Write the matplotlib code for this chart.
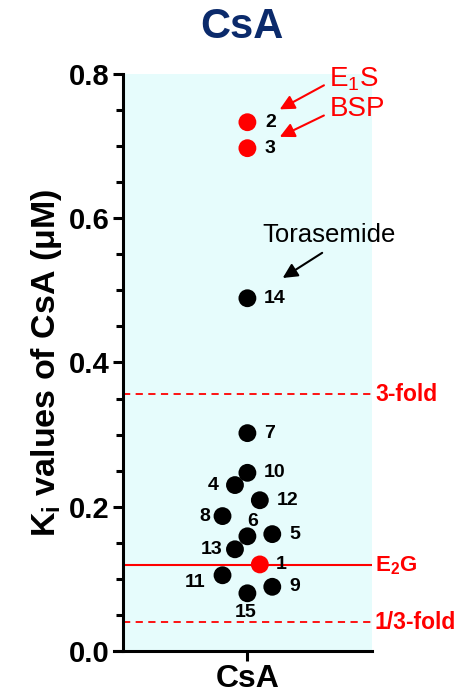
import numpy as np
import matplotlib.pyplot as plt
from matplotlib.ticker import MultipleLocator

plt.rcParams['font.family'] = ['Liberation Sans', 'DejaVu Sans']
plt.rcParams['mathtext.fontset'] = 'custom'
plt.rcParams['mathtext.rm'] = 'Liberation Sans'
plt.rcParams['mathtext.bf'] = 'Liberation Sans:bold'

# Ki values (uM) of CsA for each substrate, numbered 1-15
ids = [1, 2, 3, 4, 5, 6, 7, 8, 9, 10, 11, 12, 13, 14, 15]
ki = [0.120, 0.733, 0.697, 0.230, 0.162, 0.159, 0.302, 0.187, 0.089,
      0.247, 0.105, 0.209, 0.141, 0.489, 0.080]
jitter = [0.1, 0, 0, -0.1, 0.2, 0, 0, -0.2, 0.2, 0, -0.2, 0.1, -0.1, 0, 0]
red_ids = [1, 2, 3]

ref = 0.1187          # E2G reference
fold_hi = ref * 3
fold_lo = ref / 3

label_offsets = {1: (15.5, 0), 2: (16.5, 0), 3: (16.5, 0), 4: (-15.5, 0),
                 5: (16, 0), 6: (3.5, 10.5), 7: (16, 0), 8: (-12.5, 0),
                 9: (16, 0), 10: (19.5, 0), 11: (-19.5, -5), 12: (20, 0),
                 13: (-16.5, 0), 14: (19.5, 0), 15: (-1.5, -14)}

fig = plt.figure(figsize=(4.59, 6.97), dpi=100)
ax = fig.add_axes([0.268, 0.066, 0.542, 0.828])
ax.set_facecolor('#e6fcfc')

ax.axhline(fold_hi, color='red', lw=1.3, ls=(0, (4, 3)))
ax.axhline(fold_lo, color='red', lw=1.3, ls=(0, (4, 3)))
ax.axhline(ref, color='red', lw=1.5)

for i, v, j in zip(ids, ki, jitter):
    c = 'red' if i in red_ids else 'black'
    ax.scatter(j, v, s=165, color=c, zorder=3, edgecolors='none')
    dx, dy = label_offsets[i]
    ax.annotate(str(i), (j, v), xytext=(dx, dy), textcoords='offset points',
                ha='center', va='center', fontsize=14, fontweight='bold')

tr = ax.get_yaxis_transform()
ax.text(1.015, fold_hi, '3-fold', transform=tr, color='red', fontsize=16.5,
        fontweight='bold', va='center', clip_on=False)
ax.text(1.012, ref, r'$\mathbf{E_2G}$', transform=tr, color='red', fontsize=16,
        va='center', clip_on=False)
ax.text(1.012, fold_lo, '1/3-fold', transform=tr, color='red', fontsize=16.5,
        fontweight='bold', va='center', clip_on=False)

arr = dict(arrowstyle='-|>', lw=1.5, mutation_scale=22)
ax.annotate('', xy=(0.24, 0.749), xytext=(0.635, 0.786),
            arrowprops=dict(color='red', **arr), annotation_clip=False)
ax.annotate('', xy=(0.24, 0.711), xytext=(0.635, 0.744),
            arrowprops=dict(color='red', **arr), annotation_clip=False)
ax.annotate('', xy=(0.265, 0.515), xytext=(0.62, 0.554),
            arrowprops=dict(color='black', **arr), annotation_clip=False)
ax.text(0.66, 0.792, r'$\mathrm{E_1S}$', color='red', fontsize=20,
        va='center', ha='left', clip_on=False)
ax.text(0.66, 0.752, 'BSP', color='red', fontsize=20,
        va='center', ha='left', clip_on=False)
ax.text(0.66, 0.576, 'Torasemide', color='black', fontsize=18.5,
        va='center', ha='center', clip_on=False)

ax.set_xlim(-1, 1)
ax.set_ylim(0, 0.8)
ax.set_xticks([0])
ax.set_xticklabels(['CsA'], fontsize=23, fontweight='bold')
ax.yaxis.set_minor_locator(MultipleLocator(0.05))
ax.set_yticks([0, 0.2, 0.4, 0.6, 0.8])
ax.set_yticklabels(['0.0', '0.2', '0.4', '0.6', '0.8'], fontsize=21,
                   fontweight='bold')
ax.tick_params(axis='both', which='major', length=7.5, width=2.2, pad=2)
ax.tick_params(axis='y', which='minor', length=5, width=2.2)
for s in ['top', 'right']:
    ax.spines[s].set_visible(False)
for s in ['left', 'bottom']:
    ax.spines[s].set_linewidth(2.2)
ax.spines['bottom'].set_bounds(-1.07, 1)

ax.set_ylabel(r'$\mathbf{K_i}$ values of CsA (μM)', fontsize=24.5,
              fontweight='bold', labelpad=4)
fig.suptitle('CsA', fontsize=30, fontweight='bold', color='#0b2a6b',
             x=0.528, y=0.99)

fig.savefig('out.png', dpi=100)
